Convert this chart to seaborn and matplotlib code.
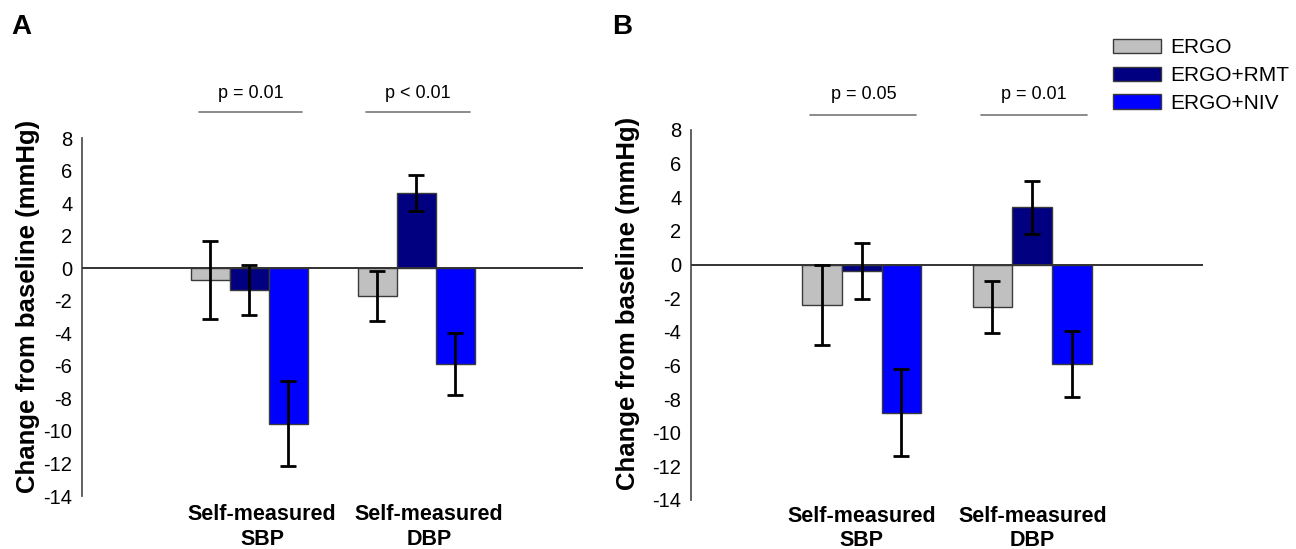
import numpy as np
import pandas as pd
import matplotlib
matplotlib.use('Agg')
import matplotlib.pyplot as plt
import matplotlib.transforms as mtransforms
import seaborn as sns

# ---- data ----
categories = ['Self-measured\nSBP', 'Self-measured\nDBP']
groups = ['ERGO', 'ERGO+RMT', 'ERGO+NIV']
colors = ['#C0C0C0', '#000080', '#0000FF']

a_ergo = [-0.7, -1.7]
a_rmt = [-1.35, 4.6]
a_niv = [-9.55, -5.9]
a_ergo_err = [2.4, 1.55]
a_rmt_err = [1.55, 1.1]
a_niv_err = [2.6, 1.9]

b_ergo = [-2.4, -2.55]
b_rmt = [-0.4, 3.4]
b_niv = [-8.8, -5.9]
b_ergo_err = [2.4, 1.55]
b_rmt_err = [1.65, 1.57]
b_niv_err = [2.6, 1.95]

a_pvals = ['p = 0.01', 'p < 0.01']
b_pvals = ['p = 0.05', 'p = 0.01']
yticks = list(range(-14, 9, 2))
ylabel = 'Change from baseline (mmHg)'

sns.set_style('white')
plt.rcParams['font.family'] = ['Liberation Sans', 'DejaVu Sans']
plt.rcParams['text.color'] = 'black'
plt.rcParams['axes.labelcolor'] = 'black'
plt.rcParams['xtick.color'] = 'black'
plt.rcParams['ytick.color'] = 'black'

fig = plt.figure(figsize=(12.96, 5.49), dpi=100)
ax_a = fig.add_axes([0.0633, 0.0965, 0.3866, 0.652])
ax_b = fig.add_axes([0.5332, 0.0893, 0.3950, 0.674])


def draw(ax, means, errs, pvals, line_y, text_y, legend, label_x, xpad, xshift):
    rows = []
    for g, m in zip(groups, means):
        for c, v in zip(categories, m):
            rows.append({'measure': c, 'group': g, 'value': v})
    df = pd.DataFrame(rows)
    sns.barplot(data=df, x='measure', y='value', hue='group', order=categories,
                hue_order=groups, palette=colors, width=0.7, errorbar=None,
                saturation=1, edgecolor='#3a3a3a', linewidth=1.0, ax=ax,
                legend=legend, zorder=2)
    for cont, m, e in zip(ax.containers, means, errs):
        xs = [p.get_x() + p.get_width() / 2 for p in cont]
        ax.errorbar(xs, m, yerr=e, fmt='none', ecolor='black', elinewidth=2.0,
                    capsize=5.5, capthick=2.0, zorder=5)
    ax.axhline(0, color='#333333', lw=1.4, zorder=4)
    ax.set_xlim(-1, 2)
    ax.set_ylim(-14, 8)
    ax.set_yticks(yticks)
    ax.set_yticklabels([str(t) for t in yticks], fontsize=14.5)
    ax.set_xticks([0, 1])
    ax.set_xticklabels(categories, fontsize=15.5, fontweight='bold', linespacing=1.2)
    ax.tick_params(axis='x', length=0, pad=xpad)
    ax.tick_params(axis='y', direction='out', length=5, width=1.3,
                   color='#555555', pad=2)
    if xshift:
        off = mtransforms.ScaledTranslation(xshift / 100.0, 0, fig.dpi_scale_trans)
        for lab in ax.get_xticklabels():
            lab.set_transform(lab.get_transform() + off)
    for s in ['top', 'right', 'bottom']:
        ax.spines[s].set_visible(False)
    ax.spines['left'].set_color('#555555')
    ax.spines['left'].set_linewidth(1.3)
    ax.set_xlabel('')
    ax.set_ylabel(ylabel, fontsize=18.5, fontweight='bold')
    ax.yaxis.set_label_coords(label_x, 0.53)
    for i, p in enumerate(pvals):
        ax.plot([i - 0.3, i + 0.32], [line_y, line_y], color='#777777', lw=1.2,
                clip_on=False)
        ax.text(i + 0.01, text_y, p, ha='center', va='center', fontsize=13,
                clip_on=False)


draw(ax_a, [a_ergo, a_rmt, a_niv], [a_ergo_err, a_rmt_err, a_niv_err],
     a_pvals, 9.6, 10.75, False, -0.084, 6, 13)
draw(ax_b, [b_ergo, b_rmt, b_niv], [b_ergo_err, b_rmt_err, b_niv_err],
     b_pvals, 8.9, 10.1, True, -0.100, 4, 0)

handles, labels = ax_b.get_legend_handles_labels()
ax_b.get_legend().remove()
fig.legend(handles, labels, loc='upper left', bbox_to_anchor=(0.8588, 0.93),
           frameon=False, fontsize=15, handlelength=2.3, handleheight=0.7,
           handletextpad=0.45, labelspacing=0.42, borderpad=0, borderaxespad=0)

fig.text(0.009, 0.975, 'A', fontsize=20, fontweight='bold', va='top', ha='left')
fig.text(0.472, 0.975, 'B', fontsize=20, fontweight='bold', va='top', ha='left')

fig.savefig('out.png', dpi=100)
